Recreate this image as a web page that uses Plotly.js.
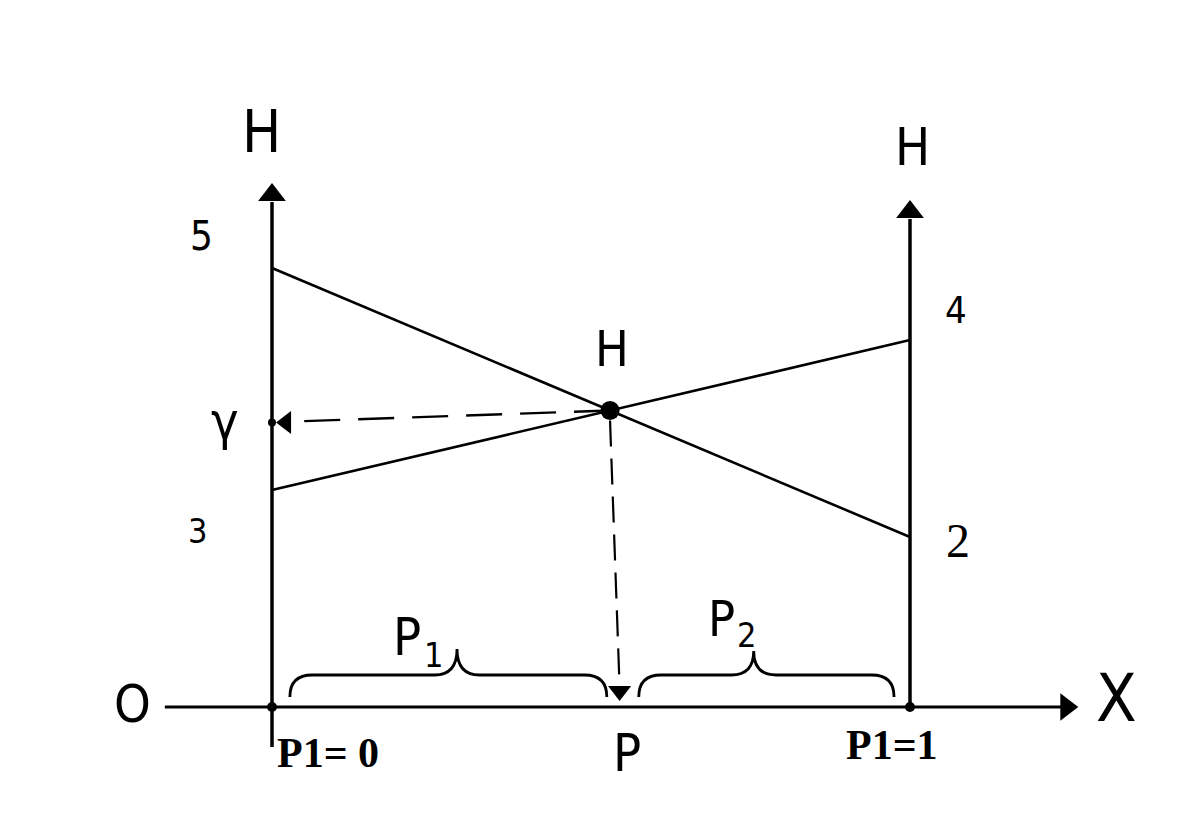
<!DOCTYPE html>
<html><head><meta charset="utf-8">
<script src="https://cdn.plot.ly/plotly-3.0.1.min.js"></script>
<style>html,body{margin:0;padding:0;background:#fff}</style>
</head><body>
<div id="chart" style="width:1178px;height:818px"></div>
<script>
// ---- data (diagram units: x = P1 share, y = height H above the X axis) ----
const axisX = [0, 1];              // P1 = 0 and P1 = 1
const lineA = [4.39, 1.70];        // H goes from 5 (left) down to 2 (right)
const lineB = [2.17, 3.67];        // H goes from 3 (left) up to 4 (right)
const leftTickLabels = ['5', '3'];
const rightTickLabels = ['4', '2'];
const baseLabels = ['P1= 0', 'P', 'P1=1'];

// intersection of the two lines (point H)
const slopeA = lineA[1] - lineA[0], slopeB = lineB[1] - lineB[0];
const xH = (lineB[0] - lineA[0]) / (slopeA - slopeB);
const yH = lineA[0] + slopeA * xH;
const gammaY = yH - 0.12;          // hand-drawn dashed arrow lands slightly lower
const pX = xH + 0.015;             // foot of the vertical dashed arrow

const K = '#000';
const hand = 'DejaVu Sans Condensed, DejaVu Sans, sans-serif';
const serif = 'Liberation Serif, Times New Roman, serif';

function head(x, y, angle, size) {
  return {x: [x], y: [y], mode: 'markers', hoverinfo: 'skip',
          marker: {color: K, size: size, symbol: 'triangle-up', angle: angle, line: {width: 0}}};
}

const traces = [
  {x: axisX, y: lineA, mode: 'lines', line: {color: K, width: 2.6}, hoverinfo: 'skip'},
  {x: axisX, y: lineB, mode: 'lines', line: {color: K, width: 2.6}, hoverinfo: 'skip'},
  {x: [xH, 0.03], y: [yH, gammaY + 0.01], mode: 'lines', line: {color: K, width: 2.4, dash: '36px,18px'}, hoverinfo: 'skip'},
  {x: [xH, pX], y: [yH - 0.1, 0.2], mode: 'lines', line: {color: K, width: 2.2, dash: '26px,12px'}, hoverinfo: 'skip'},
  {x: [xH], y: [yH], mode: 'markers', marker: {color: K, size: 19, symbol: 'circle'}, hoverinfo: 'skip'},
  {x: [axisX[0], axisX[1]], y: [0, 0], mode: 'markers', marker: {color: K, size: 10}, hoverinfo: 'skip'},
  {x: [axisX[0]], y: [gammaY], mode: 'markers', marker: {color: K, size: 8}, hoverinfo: 'skip'},
  head(axisX[0], 5.12, 0, 24),
  head(axisX[1], 4.95, 0, 24),
  head(1.245, 0, 90, 24),
  head(0.022, gammaY, -90, 20),
  head(pX, 0.16, 180, 20)
];

function brace(x0, x1, xm, yb, yc, yp) {
  const w = 0.035;
  return `M ${x0} ${yb} Q ${x0} ${yc}, ${x0 + w} ${yc} L ${xm - w} ${yc} Q ${xm} ${yc}, ${xm} ${yp}` +
         ` M ${xm} ${yp} Q ${xm} ${yc}, ${xm + w} ${yc} L ${x1 - w} ${yc} Q ${x1} ${yc}, ${x1} ${yb}`;
}

const shapes = [
  {type: 'line', xref: 'x', yref: 'y', x0: axisX[0], x1: axisX[0], y0: -0.40, y1: 5.05, line: {color: K, width: 3.5}},
  {type: 'line', xref: 'x', yref: 'y', x0: axisX[1], x1: axisX[1], y0: 0, y1: 4.88, line: {color: K, width: 3.5}},
  {type: 'line', xref: 'x', yref: 'y', x0: -0.168, x1: 1.24, y0: 0, y1: 0, line: {color: K, width: 3}},
  {type: 'path', xref: 'x', yref: 'y', path: brace(0.028, xH - 0.005, 0.29, 0.10, 0.32, 0.58), line: {color: K, width: 2.8}},
  {type: 'path', xref: 'x', yref: 'y', path: brace(xH + 0.045, 0.975, 0.755, 0.10, 0.32, 0.56), line: {color: K, width: 2.8}}
];

function label(t, x, y, size, fam, weight) {
  return {x: x, y: y, xref: 'x', yref: 'y', text: t, showarrow: false,
          font: {family: fam, size: size, color: K, weight: weight || 'normal'},
          xanchor: 'center', yanchor: 'middle'};
}

const annotations = [
  label('H', -0.016, 5.75, 58, hand),
  label('H', 1.004, 5.60, 52, hand),
  label('H', 0.533, 3.58, 50, hand),
  label('γ', -0.074, 2.86, 52, hand),
  label(leftTickLabels[0], -0.111, 4.71, 40, hand),
  label(leftTickLabels[1], -0.116, 1.76, 34, hand),
  label(rightTickLabels[0], 1.072, 3.97, 38, hand),
  label(rightTickLabels[1], 1.075, 1.67, 48, serif),
  label('P', 0.212, 0.70, 52, hand),
  label('1', 0.253, 0.52, 34, hand),
  label('P', 0.705, 0.88, 50, hand),
  label('2', 0.743, 0.72, 34, hand),
  label('O', -0.218, 0.03, 52, hand),
  label('X', 1.323, 0.09, 66, hand),
  label(baseLabels[0], 0.088, -0.46, 42, serif, 'bold'),
  label(baseLabels[1], 0.556, -0.46, 52, hand),
  label(baseLabels[2], 0.972, -0.38, 42, serif, 'bold')
];

const layout = {
  width: 1178, height: 818,
  margin: {l: 0, r: 0, t: 0, b: 0},
  paper_bgcolor: '#fff', plot_bgcolor: '#fff',
  showlegend: false,
  xaxis: {range: [-272 / 638, 906 / 638], visible: false, fixedrange: true},
  yaxis: {range: [-1.11, 7.07], visible: false, fixedrange: true},
  shapes: shapes, annotations: annotations
};

Plotly.newPlot('chart', traces, layout, {staticPlot: true, displayModeBar: false});
</script>
</body></html>
